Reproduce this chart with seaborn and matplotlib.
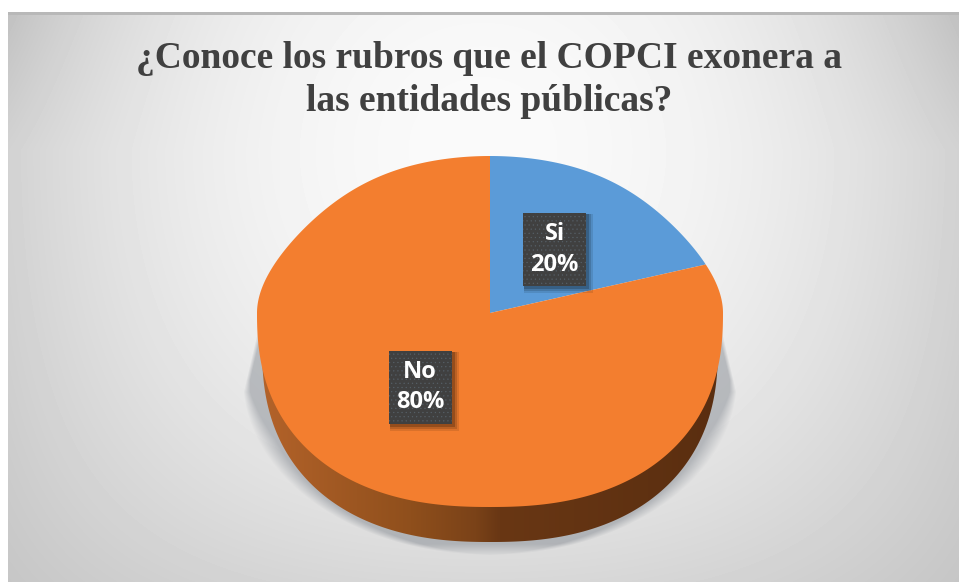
import numpy as np
import matplotlib
matplotlib.use("Agg")
import matplotlib.pyplot as plt
from matplotlib.colors import LinearSegmentedColormap
from matplotlib.patches import Rectangle, PathPatch
from matplotlib.path import Path
import seaborn as sns

title_lines = ["¿Conoce los rubros que el COPCI exonera a", "las entidades públicas?"]
categories = ["Si", "No"]
values = [20, 80]
colors = ["#5B9BD8", "#F37E2F"]

W, H = 959, 582
CX, CY, RX, RY_FAR, RY_NEAR, DEPTH = 490, 313, 233, 157, 194, 35
SUPER = 2.35

sns.set_theme(style="white")
plt.rcParams["hatch.linewidth"] = 0.35
fig = plt.figure(figsize=(W / 100, H / 100), dpi=100, facecolor="white")

# ---- background panel (pixel coordinates)
bg = fig.add_axes([0, 0, 1, 1])
bg.set_xlim(0, W)
bg.set_ylim(H, 0)
bg.axis("off")
xx, yy = np.meshgrid(np.arange(8, W) + .5, np.arange(12, H) + .5)
gx = np.abs(xx - 483) / 475
gy = np.abs(yy - 150) / 430
panel = 250 - 40 * gx ** 2 - 34 * gy ** 2 + 22 * gx ** 2 * gy ** 2
panel -= 16 * gx ** 4 * np.clip((150 - yy) / 140, 0, 1)
panel = np.clip(panel, 0, 255) / 255
panel[:3, :] = 0.72
bg.imshow(panel, extent=(8, W, H, 12), cmap="gray", vmin=0, vmax=1, aspect="auto", zorder=0)

# ---- soft shadow behind the disc
sx, sy = np.meshgrid(np.arange(230, 750) + .5, np.arange(328, 565) + .5)
half = np.minimum(232 + 14 * (sy - 330) / 60,
                  247 * np.sqrt(np.clip(1 - ((sy - 380) / 175) ** 2, 0, 1)))
half = np.where(sy < 380, 232 + 14 * np.clip((sy - 330) / 60, 0, 1), half)
soft = 4 + 14 * np.clip((sy - 380) / 60, 0, 1)
alpha = np.clip((half - np.abs(sx - CX)) / soft, 0, 1) * 0.38
alpha *= np.clip((556 - sy) / 12, 0, 1)
shadow = np.zeros(sx.shape + (4,))
shadow[..., :3] = (0.40, 0.43, 0.47)
shadow[..., 3] = alpha
bg.imshow(shadow, extent=(230, 750, 565, 328), aspect="auto", zorder=1)
bg.set_xlim(0, W)
bg.set_ylim(H, 0)

# ---- pie axes: one unit in x is RX pixels and one unit in y is RY_FAR pixels
ax = fig.add_axes([0, 0, 1, 1], facecolor="none")
wedges, _ = ax.pie(values, colors=colors, startangle=90, counterclock=False, radius=1,
                   center=(0, 0), wedgeprops={"linewidth": 0, "zorder": 3})
stretch = RY_NEAR / RY_FAR


def warp(pts):
    # tilted view: the near half of the disc looks larger and fuller than the far half
    pts = np.array(pts, dtype=float)
    up = np.clip(pts[:, 1], 0, 1)
    low = np.clip(-pts[:, 1], 0, 1)
    on_arc = np.hypot(pts[:, 0], pts[:, 1]) > 0.5
    pts[:, 0] *= 1 - 0.4 * up ** 2 * (1 - up)
    full = np.sign(pts[:, 0]) * (1 - low ** SUPER) ** (1 / SUPER)
    pts[:, 0] = np.where(on_arc & (pts[:, 1] < 0), full, pts[:, 0])
    pts[:, 1] = np.where(pts[:, 1] < 0, pts[:, 1] * stretch, pts[:, 1])
    return pts


for w in wedges:
    pieces = []
    for curve, code in w.get_path().iter_bezier():
        if code == Path.MOVETO:
            continue
        steps = 2 if code in (Path.LINETO, Path.CLOSEPOLY) else 40
        pieces.append(curve(np.linspace(0, 1, steps)))
    verts = warp(np.vstack(pieces))
    w._path = Path(np.vstack([verts, verts[0]]), closed=True)

# rim of the disc
depth = DEPTH / RY_FAR
rim_x = 0.978
th = np.radians(np.linspace(180, 360, 300))
rim = warp(np.column_stack([np.cos(th), np.sin(th)]))
rim[:, 0] *= rim_x
rim[:, 1] -= depth
rim = np.vstack([[-rim_x, 0], rim, [rim_x, 0], [-rim_x, 0]])
rim_patch = PathPatch(Path(rim, closed=True), fc="none", ec="none")
ax.add_patch(rim_patch)
cmap = LinearSegmentedColormap.from_list(
    "rim", [(0, "#B4632A"), (0.33, "#8F4F1C"), (0.47, "#7A4218"), (0.52, "#693714"),
            (1, "#5A2E10")])
img = ax.imshow(np.linspace(0, 1, 256)[None, :], extent=(-1, 1, -stretch - depth, 0),
                cmap=cmap, aspect="auto", zorder=2)
img.set_clip_path(rim_patch)

ax.set_aspect("auto")
ax.set_xlim(-CX / RX, (W - CX) / RX)
ax.set_ylim((CY - H) / RY_FAR, CY / RY_FAR)
ax.axis("off")

# ---- title
bg.text(489, 68, title_lines[0], family="Liberation Serif", weight="bold", fontsize=27,
        color="#404040", ha="center", va="baseline", zorder=5)
bg.text(489, 111, title_lines[1], family="Liberation Serif", weight="bold", fontsize=27,
        color="#404040", ha="center", va="baseline", zorder=5)

# ---- data labels
label_centres = [(554.5, 249.5), (420, 387)]
BOX_W, BOX_H = 63, 73
for cat, val, (lx, ly) in zip(categories, values, label_centres):
    for k, a in zip((7, 5, 3), (0.10, 0.14, 0.2)):
        ax.add_patch(Rectangle((lx - BOX_W / 2 + 1, ly - BOX_H / 2 + 1), BOX_W + k - 1, BOX_H + k - 1,
                               transform=bg.transData, fc="black", ec="none", alpha=a, zorder=6))
    ax.add_patch(Rectangle((lx - BOX_W / 2, ly - BOX_H / 2), BOX_W, BOX_H, transform=bg.transData,
                           fc="#404040", ec="#566068", lw=0, hatch="....", zorder=7))
    ax.text(lx, ly - 15.5, cat, transform=bg.transData, family="Open Sans", weight="bold",
            fontsize=17, color="white", ha="center", va="center", zorder=8)
    ax.text(lx, ly + 15.5, f"{val}%", transform=bg.transData, family="Open Sans", weight="bold",
            fontsize=17, color="white", ha="center", va="center", zorder=8)

fig.savefig("out.png", dpi=100, facecolor="white")
